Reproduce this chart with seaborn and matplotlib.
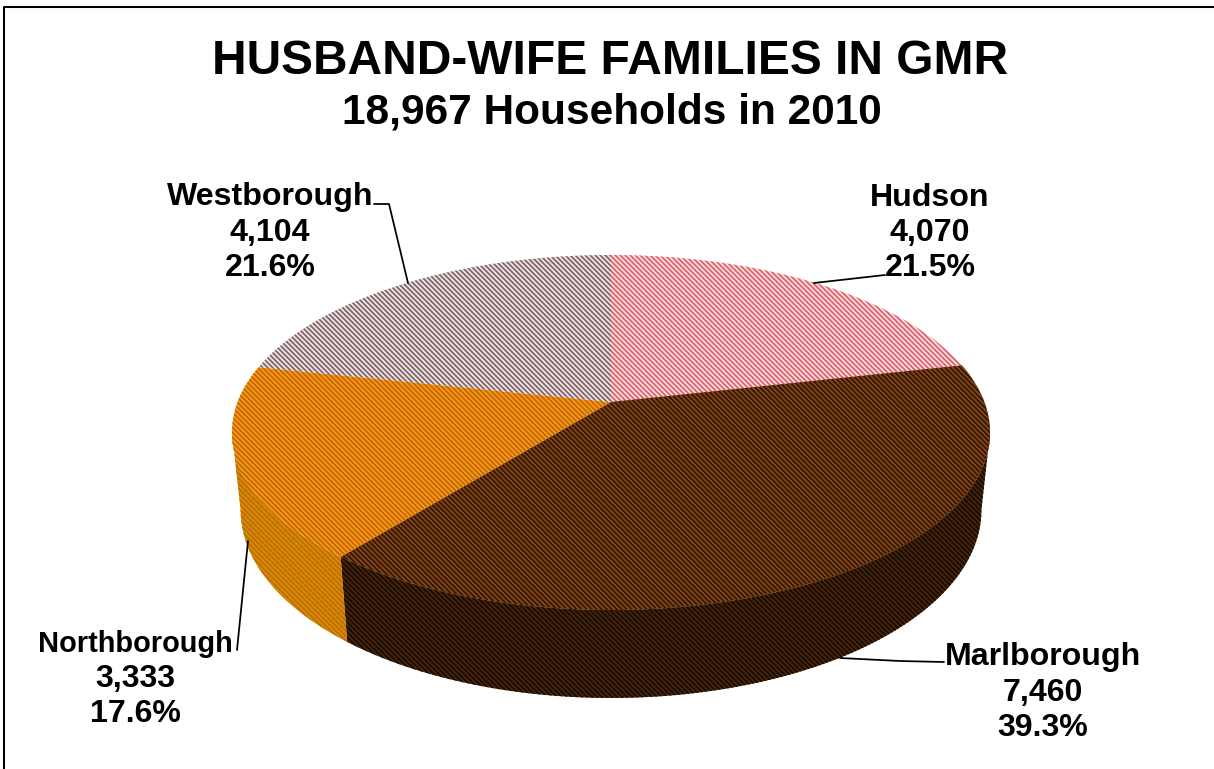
import numpy as np
import matplotlib
matplotlib.use("Agg")
import matplotlib.pyplot as plt
import seaborn as sns

towns = ["Hudson", "Marlborough", "Northborough", "Westborough"]
households = [4070, 7460, 3333, 4104]
title = "HUSBAND-WIFE FAMILIES IN GMR"
subtitle = "18,967 Households in 2010"

# top face colours: background, stripe
top_bg = ["#fce0e0", "#2f1606", "#f99c12", "#eee6e6"]
top_stripe = ["#de5f6e", "#8a4716", "#c2650a", "#806468"]
side_bg = ["#fce0e0", "#4a260a", "#dd8904", "#eee6e6"]
side_stripe = ["#de5f6e", "#140a03", "#b87004", "#806468"]

# label centre, name size, then leader line points (pixels)
label_xy = [(930, 230), (1043, 690), (135, 676), (270, 230)]
name_size = [22, 22, 19.9, 22]
leaders = [
    [(885, 275), (814, 283)],
    [(944, 662), (900, 661), (840, 658)],
    [(237, 650), (248, 541)],
    [(374, 204), (389, 204), (408, 283)],
]

sns.set_theme(style="white")
plt.rcParams["font.family"] = ["Liberation Sans", "DejaVu Sans"]
plt.rcParams["hatch.linewidth"] = 1.2

DPI = 105
fig, ax = plt.subplots(figsize=(1214 / DPI, 769 / DPI), dpi=DPI)
fig.subplots_adjust(0, 0, 1, 1)

wedges, _ = ax.pie(households, startangle=90, counterclock=False)
angles = [(w.theta1, w.theta2) for w in wedges]
for w in wedges:
    w.remove()

ax.set_aspect("auto")
ax.set_xlim(0, 1214)
ax.set_ylim(769, 0)
ax.axis("off")


def project(theta, r, cx, cw, a, b, k):
    # perspective view of a flat disc
    x = r * np.cos(np.radians(theta))
    y = r * np.sin(np.radians(theta))
    d = 1 + k * y
    return cx + cw * x / d, (a * y + b) / d


top_disc = dict(cx=611, cw=373.4, a=-103.2, b=402, k=0.1718)
low_disc = dict(cx=611, cw=365, a=-101.3, b=478, k=0.17)
STRIPES = "\\" * 7

# only the front of the rim is visible
tilt = np.degrees(np.arcsin(0.17))
front = (-180 + tilt, -tilt)

for i, (t1, t2) in enumerate(angles):
    lo, hi = max(t1, front[0]), min(t2, front[1])
    if lo >= hi:
        continue
    th = np.linspace(lo, hi, 200)
    xt, yt = project(th, 1, **top_disc)
    xb, yb = project(th, 1, **low_disc)
    ax.fill(np.r_[xt, xb[::-1]], np.r_[yt, yb[::-1]], facecolor=side_bg[i],
            edgecolor=side_stripe[i], hatch=STRIPES, linewidth=0, zorder=2)

for i, (t1, t2) in enumerate(angles):
    th = np.linspace(t1, t2, 200)
    xt, yt = project(th, 1, **top_disc)
    cx0, cy0 = project(np.array([0.0]), 0, **top_disc)
    ax.fill(np.r_[cx0, xt], np.r_[cy0, yt], facecolor=top_bg[i],
            edgecolor=top_stripe[i], hatch=STRIPES, linewidth=0, zorder=3)

total = sum(households)
for name, val, (lx, ly), fs in zip(towns, households, label_xy, name_size):
    ax.text(lx, ly - 24.5, name, ha="center", va="baseline", fontsize=fs,
            fontweight="bold", color="black", zorder=5)
    ax.text(lx, ly + 11, f"{val:,}", ha="center", va="baseline", fontsize=22,
            fontweight="bold", color="black", zorder=5)
    ax.text(lx, ly + 46.5, f"{val / total:.1%}", ha="center", va="baseline", fontsize=22,
            fontweight="bold", color="black", zorder=5)

for pts in leaders:
    xs, ys = zip(*pts)
    ax.plot(xs, ys, color="black", lw=1.2, zorder=4)

ax.text(610.5, 61, title, ha="center", va="center", fontsize=32.84, fontweight="bold", color="black")
ax.text(612, 112, subtitle, ha="center", va="center", fontsize=29.07, fontweight="bold", color="black")

# frame shows only on the left and top
ax.plot([3.5, 3.5, 1214], [769, 6.5, 6.5], color="black", lw=1.4, zorder=6, clip_on=False)

fig.savefig("out.png", dpi=DPI)
